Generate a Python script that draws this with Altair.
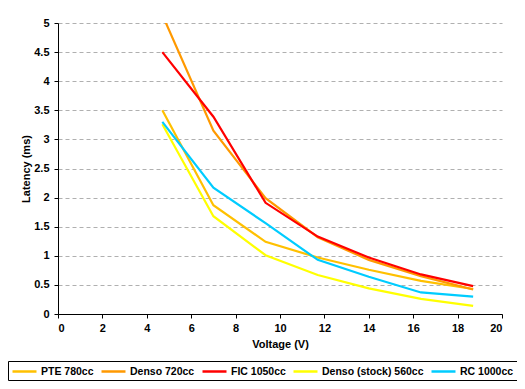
import altair as alt
import pandas as pd

# Voltages (V) at which latency was measured
voltage = [4.7, 7.0, 9.35, 11.7, 14.0, 16.35, 18.7]

# Latency (ms) per injector
pte_780 = [3.50, 1.87, 1.24, 0.97, 0.76, 0.57, 0.43]
denso_720 = [5.14, 3.15, 1.99, 1.32, 0.93, 0.65, 0.42]
fic_1050 = [4.50, 3.39, 1.91, 1.33, 0.97, 0.68, 0.48]
denso_stock_560 = [3.26, 1.68, 1.01, 0.67, 0.44, 0.26, 0.14]
rc_1000 = [3.30, 2.17, 1.56, 0.93, 0.64, 0.37, 0.30]

series_names = ["PTE 780cc", "Denso 720cc", "FIC 1050cc", "Denso (stock) 560cc", "RC 1000cc"]
series_values = [pte_780, denso_720, fic_1050, denso_stock_560, rc_1000]
series_colors = ["#FFC000", "#FF9900", "#FF0000", "#FFFF00", "#00CCFF"]

x_ticks = [0, 2, 4, 6, 8, 10, 12, 14, 16, 18, 20]
y_ticks = [0, 0.5, 1, 1.5, 2, 2.5, 3, 3.5, 4, 4.5, 5]

rows = []
for name, vals in zip(series_names, series_values):
    for v, lat in zip(voltage, vals):
        rows.append({"series": name, "voltage": v, "latency": lat})
df = pd.DataFrame(rows)

FONT = "Liberation Sans"

chart = alt.Chart(df).mark_line(strokeWidth=2.2, clip=True).encode(
    x=alt.X(
        "voltage:Q",
        scale=alt.Scale(domain=[0, 20], nice=False),
        axis=alt.Axis(
            values=x_ticks, title="Voltage (V)", grid=False,
            labelPadding=4, titlePadding=5,
        ),
    ),
    y=alt.Y(
        "latency:Q",
        scale=alt.Scale(domain=[0, 5], nice=False),
        axis=alt.Axis(
            values=y_ticks, format=".1~f", title="Latency (ms)", grid=True,
            gridDash=[4, 3], gridColor="#B0B0B0", gridWidth=1, gridOpacity=1,
            labelPadding=5, titlePadding=2,
        ),
    ),
    color=alt.Color(
        "series:N",
        scale=alt.Scale(domain=series_names, range=series_colors),
        legend=alt.Legend(
            title=None, orient="none", direction="horizontal",
            legendX=-50, legendY=338,
            strokeColor="black", padding=3,
            symbolType="M-1,0H3", symbolSize=144, symbolStrokeWidth=2.5,
            labelFont=FONT, labelFontSize=10.5, labelFontWeight="bold",
            labelColor="black", labelOffset=15, columnPadding=2,
            fillColor="white",
        ),
    ),
    order=alt.Order("voltage:Q"),
).properties(
    width=444,
    height=291,
    padding={"left": 50, "top": 15, "right": 15, "bottom": 67},
    autosize=alt.AutoSizeParams(type="none"),
    background="white",
).configure_view(
    stroke=None
).configure_axis(
    domainColor="black", tickColor="black", tickSize=4,
    labelFont=FONT, labelFontSize=11, labelFontWeight="bold", labelColor="black",
    titleFont=FONT, titleFontSize=11, titleFontWeight="bold", titleColor="black",
)

chart.save("out.html", embed_options={"renderer": "svg", "actions": False})
